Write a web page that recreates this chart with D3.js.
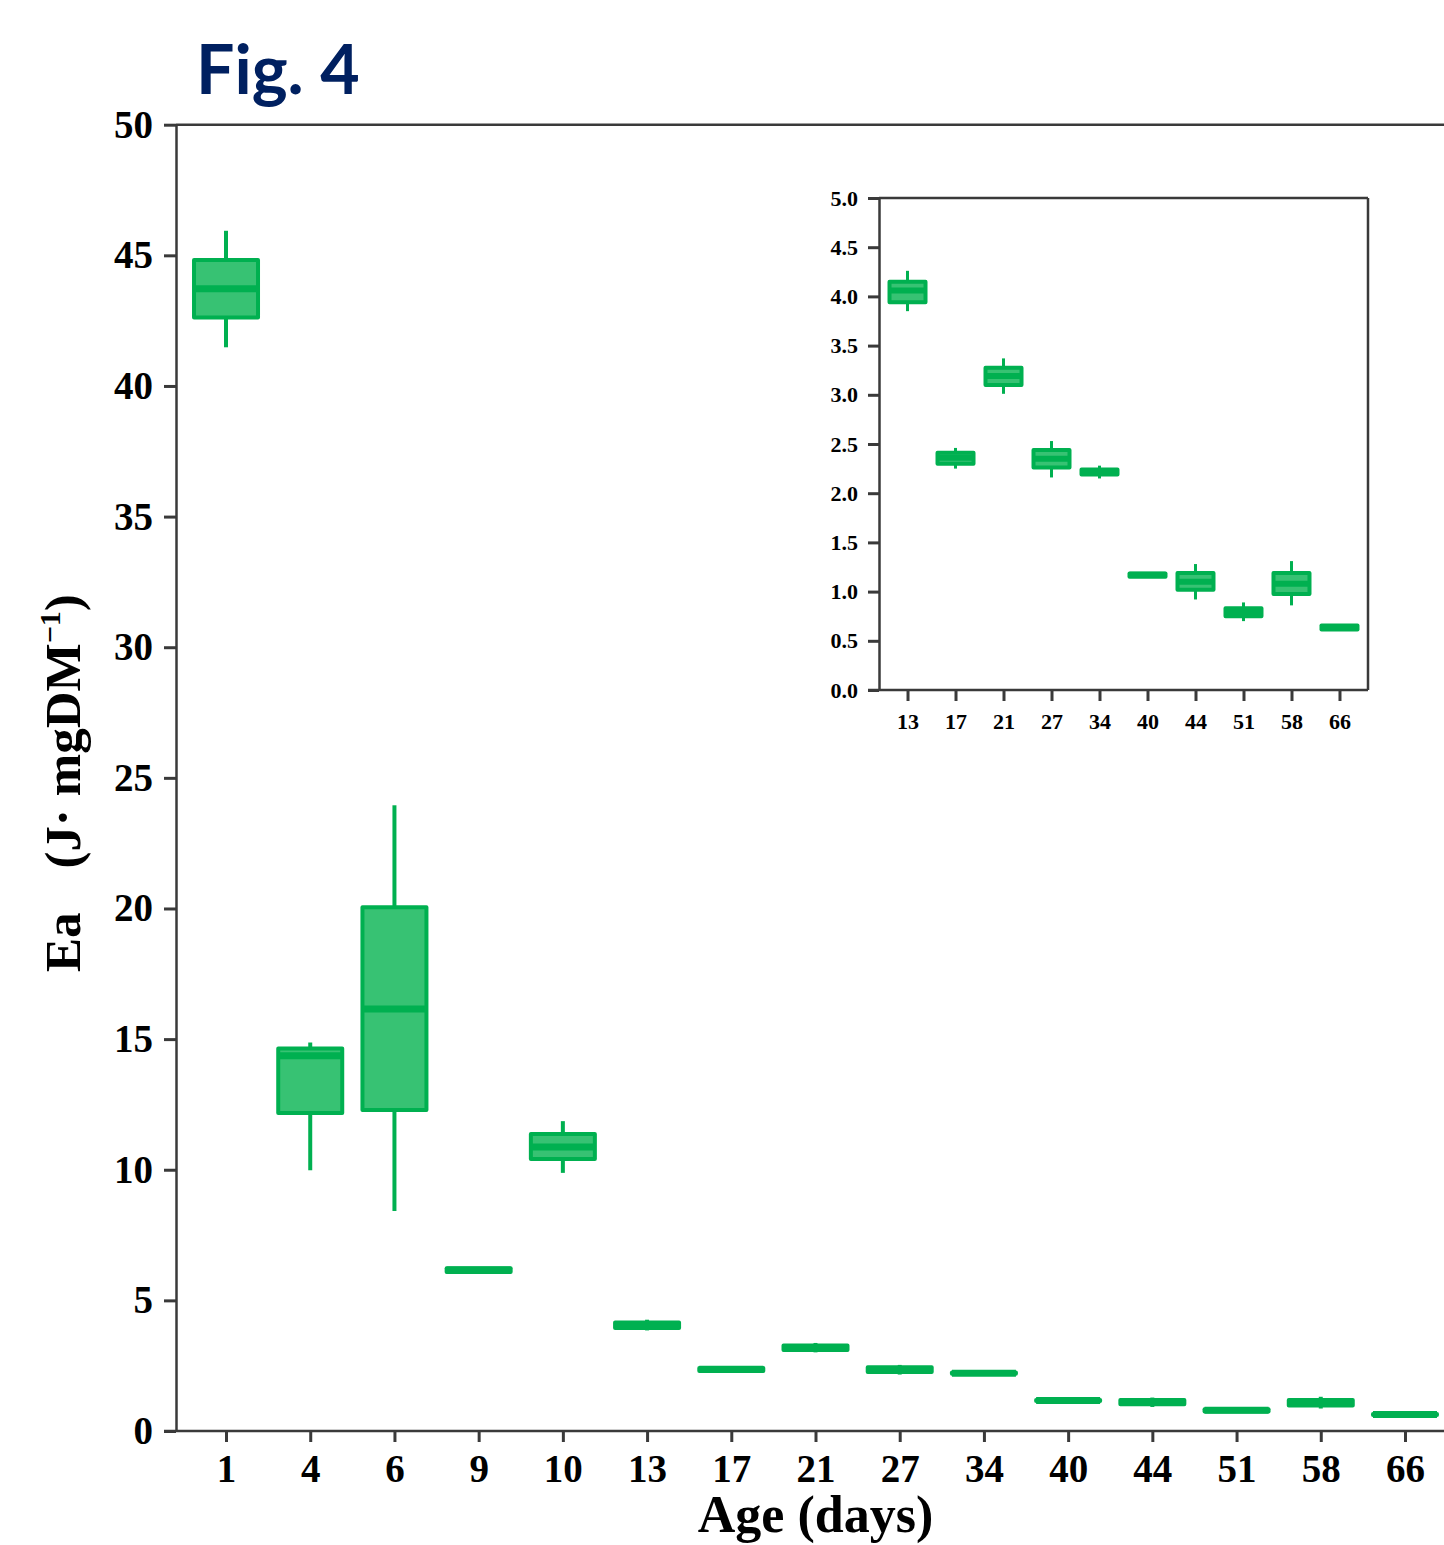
<!DOCTYPE html>
<html><head><meta charset="utf-8">
<script src="https://cdn.jsdelivr.net/npm/d3@7"></script>
<style>body{margin:0;background:#fff} svg{display:block}</style>
</head><body>
<svg id="chart" width="1444" height="1545"></svg>
<script>
const categories = ["1","4","6","9","10","13","17","21","27","34","40","44","51","58","66"];
const whiskerLow  = [41.48, 9.98,  8.42, 6.09, 9.88, 3.85, 2.25, 3.01, 2.16, 2.15, 1.15, 0.92, 0.70, 0.86, 0.615];
const q1          = [42.62, 12.17, 12.29, 6.09, 10.41, 3.94, 2.30, 3.10, 2.26, 2.19, 1.15, 1.02, 0.75, 0.975, 0.615];
const median      = [43.72, 14.36, 16.15, 6.16, 10.87, 4.06, 2.36, 3.19, 2.35, 2.215, 1.17, 1.10, 0.79, 1.08, 0.635];
const q3          = [44.82, 14.64, 20.05, 6.23, 11.37, 4.15, 2.41, 3.275, 2.44, 2.24, 1.185, 1.19, 0.83, 1.19, 0.655];
const whiskerHigh = [45.94, 14.87, 23.95, 6.23, 11.86, 4.26, 2.46, 3.37, 2.53, 2.28, 1.185, 1.28, 0.89, 1.31, 0.655];
const mainTicks = [0, 5, 10, 15, 20, 25, 30, 35, 40, 45, 50];
const insetCategories = ["13","17","21","27","34","40","44","51","58","66"];
const insetTicks = [0, 0.5, 1, 1.5, 2, 2.5, 3, 3.5, 4, 4.5, 5];

const GREEN = "#00b050", FILL = "#37c273", AXIS = "#3a3a3a";
const SERIF = "'Liberation Serif','Times New Roman',serif";

const svg = d3.select("#chart");
const rows = categories.map((c, i) => ({cat: c, lo: whiskerLow[i], q1: q1[i], med: median[i], q3: q3[i], hi: whiskerHigh[i]}));

function drawBoxes(g, x, y, data, o) {
  const b = g.selectAll("g.box").data(data).join("g").attr("class", "box");
  b.append("line").attr("x1", d => x(d.cat)).attr("x2", d => x(d.cat))
    .attr("y1", d => y(d.hi)).attr("y2", d => y(d.q3))
    .attr("stroke", GREEN).attr("stroke-width", o.whisker);
  b.append("line").attr("x1", d => x(d.cat)).attr("x2", d => x(d.cat))
    .attr("y1", d => y(d.q1)).attr("y2", d => y(d.lo))
    .attr("stroke", GREEN).attr("stroke-width", o.whisker);
  b.append("rect").attr("x", d => x(d.cat) - o.bw / 2).attr("width", o.bw)
    .attr("y", d => y(d.q3)).attr("height", d => Math.max(0.01, y(d.q1) - y(d.q3)))
    .attr("fill", FILL).attr("stroke", GREEN).attr("stroke-width", o.stroke)
    .attr("stroke-linejoin", "round");
  b.append("line").attr("x1", d => x(d.cat) - o.bw / 2).attr("x2", d => x(d.cat) + o.bw / 2)
    .attr("y1", d => y(d.med)).attr("y2", d => y(d.med))
    .attr("stroke", GREEN).attr("stroke-width", o.median);
}

function styleAxis(g, fontSize) {
  g.select(".domain").attr("stroke", AXIS).attr("stroke-width", 2.5);
  g.selectAll(".tick line").attr("stroke", AXIS).attr("stroke-width", 3);
  g.selectAll(".tick text").attr("fill", "#000").attr("font-family", SERIF)
    .attr("font-weight", "bold").attr("font-size", fontSize);
}

// ---------- main chart ----------
const L = 176, R = 1455, T = 124.7, B = 1431;
const x = d3.scalePoint().domain(categories).range([L, R]).padding(0.594);
const y = d3.scaleLinear().domain([0, 50]).range([B, T]);

svg.append("line").attr("x1", L).attr("x2", R).attr("y1", T).attr("y2", T).attr("stroke", AXIS).attr("stroke-width", 2.5);
svg.append("line").attr("x1", R).attr("x2", R).attr("y1", T).attr("y2", B).attr("stroke", AXIS).attr("stroke-width", 2.5);

const gy = svg.append("g").attr("transform", `translate(${L},0)`)
  .call(d3.axisLeft(y).tickValues(mainTicks).tickSize(12).tickSizeOuter(0).tickPadding(11));
styleAxis(gy, 39);
const gx = svg.append("g").attr("transform", `translate(0,${B})`)
  .call(d3.axisBottom(x).tickSize(11).tickSizeOuter(0).tickPadding(12));
gx.select(".domain").attr("d", `M${L - 12},0H${R}`);
styleAxis(gx, 39);

drawBoxes(svg.append("g"), x, y, rows, {bw: 64, stroke: 4, median: 7, whisker: 4});

svg.append("text").attr("x", (L + R) / 2).attr("y", 1532).attr("text-anchor", "middle")
  .attr("font-family", SERIF).attr("font-weight", "bold").attr("font-size", 52).text("Age (days)");

const yt = svg.append("text").attr("transform", "translate(80,972) rotate(-90)")
  .attr("font-family", SERIF).attr("font-weight", "bold").attr("font-size", 51).attr("xml:space", "preserve");
yt.append("tspan").text("Ea");
yt.append("tspan").attr("dx", 44).text("(J· mgDM");
yt.append("tspan").attr("font-size", 30).attr("dy", -20).text("−1");
yt.append("tspan").attr("dy", 20).text(")");

svg.append("text").attr("x", 196).attr("y", 94).attr("font-family", "Lato, 'Open Sans', sans-serif")
  .attr("font-weight", "bold").attr("font-size", 68).attr("fill", "#002060").text("Fig. 4");

// ---------- inset ----------
const iL = 879, iR = 1368, iT = 198, iB = 690;
const xi = d3.scalePoint().domain(insetCategories).range([iL, iR]).padding(0.594);
const yi = d3.scaleLinear().domain([0, 5]).range([iB, iT]);
const insetRows = rows.filter(d => insetCategories.includes(d.cat));

svg.append("line").attr("x1", iL).attr("x2", iR).attr("y1", iT).attr("y2", iT).attr("stroke", AXIS).attr("stroke-width", 2.5);
svg.append("line").attr("x1", iR).attr("x2", iR).attr("y1", iT).attr("y2", iB).attr("stroke", AXIS).attr("stroke-width", 2.5);
const giy = svg.append("g").attr("transform", `translate(${iL},0)`)
  .call(d3.axisLeft(yi).tickValues(insetTicks).tickFormat(d3.format(".1f")).tickSize(11).tickSizeOuter(0).tickPadding(10));
styleAxis(giy, 22);
const gix = svg.append("g").attr("transform", `translate(0,${iB})`)
  .call(d3.axisBottom(xi).tickSize(11).tickSizeOuter(0).tickPadding(12));
gix.select(".domain").attr("d", `M${iL - 11},0H${iR}`);
styleAxis(gix, 22);

drawBoxes(svg.append("g"), xi, yi, insetRows, {bw: 36, stroke: 4, median: 6, whisker: 3});
</script>
</body></html>
